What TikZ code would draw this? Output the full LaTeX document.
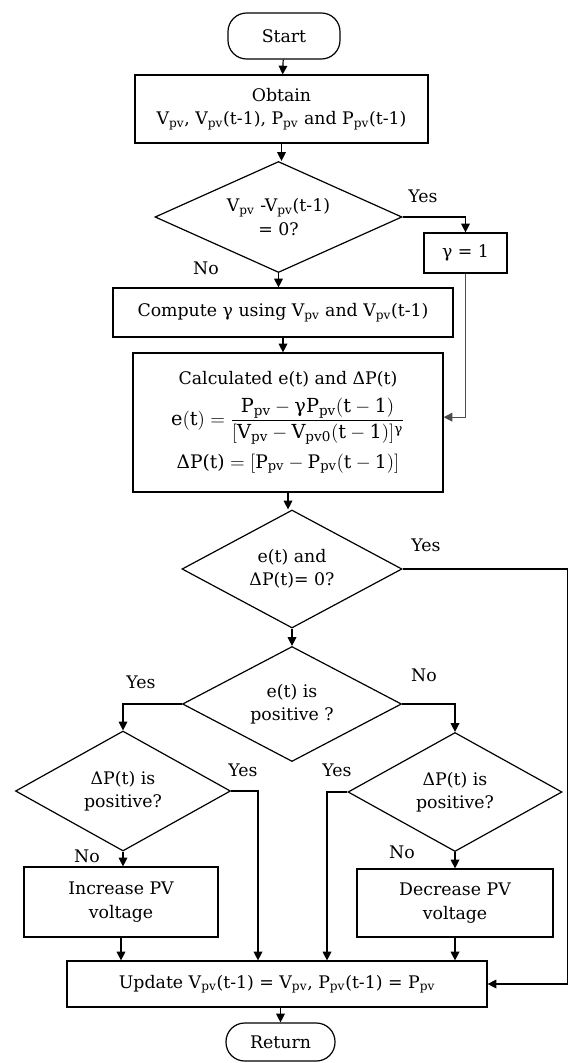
\documentclass[tikz,border=0pt]{standalone}
\usepackage{amsmath}
\usepackage{fontspec}
\setmainfont{DejaVu Serif}
\usetikzlibrary{shapes.geometric,arrows.meta}
\newcommand{\pv}{\textsubscript{pv}}
\begin{document}
\begin{tikzpicture}[x=0.75pt,y=-0.75pt,
  font=\fontsize{13}{17.5}\selectfont,
  line width=0.9pt,
  box/.style={draw, rectangle, align=center, inner sep=1pt},
  term/.style={draw, rectangle, rounded corners=14pt, align=center, inner sep=1pt},
  diam/.style={draw, diamond, align=center, inner sep=0pt, shape aspect=2},
  arr/.style={-{Triangle[length=6.5pt,width=6.5pt]}},
  lab/.style={inner sep=0pt}]
\useasboundingbox (0,0) rectangle (569,1063);

\node[term, minimum width=112*0.75pt, minimum height=46*0.75pt] (start) at (284,36) {Start};
\node[box, minimum width=293*0.75pt, minimum height=68*0.75pt] (obtain) at (281.5,109)
  {Obtain\\V\pv, V\pv(t-1), P\pv{} and P\pv(t-1)};
\node[diam, minimum width=247*0.75pt, minimum height=111*0.75pt] (d1) at (278.5,217)
  {V\pv{} -V\pv(t-1)\\= 0?};
\node[box, minimum width=83*0.75pt, minimum height=40*0.75pt] (gamma) at (465.5,253) {γ = 1};
\node[box, minimum width=340*0.75pt, minimum height=49*0.75pt] (compute) at (283,312.5)
  {Compute γ using V\pv{} and V\pv(t-1)};
\node[box, minimum width=310*0.75pt, minimum height=139*0.75pt] (calc) at (288,422.5)
  {Calculated e(t) and ΔP(t)\\[7pt]
   {\fontsize{14.5}{17}\selectfont$\mathrm{e(t)} = \dfrac{\mathrm{P_{pv}} - \text{γ}\mathrm{P_{pv}(t} - \mathrm{1)}}{\mathrm{[V_{pv}} - \mathrm{V_{pv0}(t} - \mathrm{1)]^{\text{γ}}}}$}\\[6pt]
   {\fontsize{14}{17}\selectfont$\text{ΔP(t)} = \mathrm{[P_{pv}} - \mathrm{P_{pv}(t} - \mathrm{1)]}$}};
\node[diam, minimum width=220*0.75pt, minimum height=118*0.75pt] (d2) at (292,569)
  {e(t) and\\ΔP(t)= 0?};
\node[diam, minimum width=219*0.75pt, minimum height=115*0.75pt] (d3) at (292,704)
  {e(t) is\\positive ?};
\node[diam, minimum width=215*0.75pt, minimum height=120*0.75pt] (d4) at (123,791)
  {ΔP(t) is\\positive?};
\node[diam, minimum width=214*0.75pt, minimum height=119*0.75pt] (d5) at (455,792)
  {ΔP(t) is\\positive?};
\node[box, minimum width=194*0.75pt, minimum height=70*0.75pt] (inc) at (121,902)
  {Increase PV\\voltage};
\node[box, minimum width=196*0.75pt, minimum height=68*0.75pt] (dec) at (455,903)
  {Decrease PV\\voltage};
\node[box, minimum width=420*0.75pt, minimum height=46*0.75pt] (update) at (277,984)
  {Update V\pv(t-1) = V\pv, P\pv(t-1) = P\pv};
\node[term, minimum width=109*0.75pt, minimum height=38*0.75pt] (ret) at (280.5,1042) {Return};

\node[lab] (y1) at (423,196) {Yes};
\node[lab] (n1) at (206,268) {No};
\node[lab] (y2) at (426,545) {Yes};
\node[lab] (y3) at (141,682) {Yes};
\node[lab] (n3) at (424,675) {No};
\node[lab] (y4) at (243,770) {Yes};
\node[lab] (n4) at (87,856) {No};
\node[lab] (y5) at (337,770) {Yes};
\node[lab] (n5) at (402,852) {No};

\coordinate (redge) at (567.5,569);
\coordinate (d4r) at (258,791);
\coordinate (d5l) at (327,792);

\draw[arr] (start) -- (obtain);
\draw[arr] (obtain.south) -- (obtain.south |- d1.north);
\draw[arr] (d1.east) -| (gamma.north);
\draw[arr] (d1.south) -- (d1.south |- compute.north);
\draw[arr] (compute.south) -- (compute.south |- calc.north);
\draw[arr, draw=black!70] (gamma.south) |- ([yshift=4pt]calc.east);
\draw[arr] (calc.south) -- (calc.south |- d2.north);
\draw[arr] (d2.east) -- (redge) |- (update.east);
\draw[arr] (d2.south) -- (d3.north);
\draw[arr] (d3.west) -| (d4.north);
\draw[arr] (d3.east) -| (d5.north);
\draw[arr] (d4.east) -- (d4r) -- (d4r |- update.north);
\draw[arr] (d4.south) -- (d4.south |- inc.north);
\draw[arr] (inc.south) -- (inc.south |- update.north);
\draw[arr] (d5.west) -- (d5l) -- (d5l |- update.north);
\draw[arr] (d5.south) -- (d5.south |- dec.north);
\draw[arr] (dec.south) -- (dec.south |- update.north);
\draw[arr] (update.south -| ret.north) -- (ret.north);
\end{tikzpicture}
\end{document}
